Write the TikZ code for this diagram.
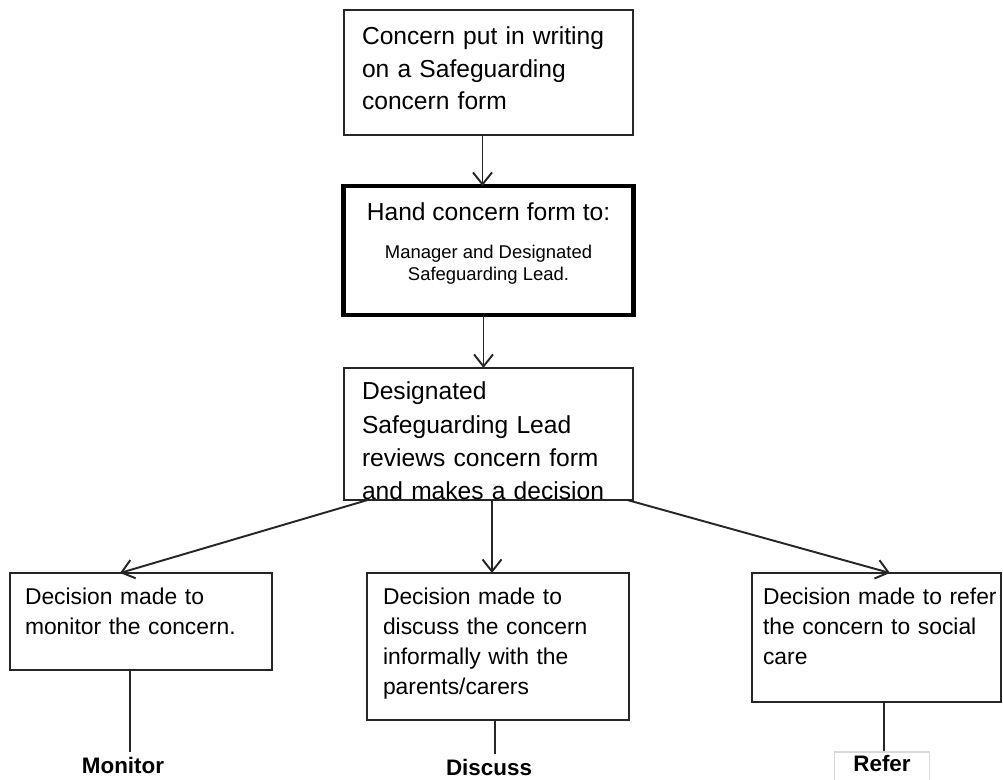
\documentclass[tikz,border=0pt]{standalone}
\usepackage{fontspec}
\setmainfont{Liberation Sans}
\usetikzlibrary{positioning, calc}
\usetikzlibrary{arrows.meta}

\begin{document}
\begin{tikzpicture} [x=0.02cm, y=0.02cm, font=\fontsize{14pt}{18.5pt}\selectfont,
	box/.style={draw=black!85, line width=1pt, inner sep=0pt, outer sep=0pt},
	txt/.style={inner sep=0pt, outer sep=0pt, align=left},
	lowtxt/.style={txt, text width=4.7cm, font=\fontsize{13pt}{17pt}\selectfont},
	outcome/.style={anchor=base, font=\fontsize{12.75pt}{15pt}\selectfont\bfseries},
	link/.style={draw=black!85, line width=1.1pt},
	arr/.style={link, -{Straight Barb[length=2.4mm, width=3.8mm]}}]
	\useasboundingbox (0,0) rectangle (1003,780);
	\node [box, minimum width=5.78cm, minimum height=2.5cm] (form) at (488.5,707.5) {};
	\node [box, draw=black, line width=2.6pt, minimum width=5.8cm, minimum height=2.58cm, below=1.02cm of form] (hand) {};
	\node [box, minimum width=5.78cm, minimum height=2.64cm, below=1.06cm of hand] (review) {};
	\node [box, anchor=north, minimum width=5.24cm, minimum height=1.94cm] (monitor) at (141,207) {};
	\node [box, anchor=north, minimum width=5.24cm, minimum height=2.94cm] (discuss) at (498,207) {};
	\node [box, anchor=north, minimum width=4.98cm, minimum height=2.58cm] (refer) at (876.5,207) {};
	\node [txt, text width=5.3cm, below right=0.34cm and 0.36cm of form.north west] (formtxt) {Concern put in writing\\on a Safeguarding\\concern form};
	\node [txt, below=0.34cm of hand.north] (handto) {Hand concern form to:};
	\node [txt, align=center, font=\fontsize{10.5pt}{12.5pt}\selectfont, below=1.18cm of hand.north] (handwho) {Manager and Designated\\Safeguarding Lead.};
	\node [txt, text width=5.3cm, font=\fontsize{14pt}{19pt}\selectfont, below right=0.28cm and 0.36cm of review.north west] (reviewtxt) {Designated\\Safeguarding Lead\\reviews concern form\\and makes a decision};
	\node [lowtxt, below right=0.3cm and 0.3cm of monitor.north west] (monitortxt) {Decision made to\\monitor the concern.};
	\node [lowtxt, below right=0.3cm and 0.32cm of discuss.north west] (discusstxt) {Decision made to\\discuss the concern\\informally with the\\parents/carers};
	\node [lowtxt, below right=0.3cm and 0.22cm of refer.north west] (refertxt) {Decision made to refer\\the concern to social\\care};
	\node [outcome] (mon) at (123,6) {Monitor};
	\node [outcome] (disc) at (489,4) {Discuss};
	\node [outcome, draw=black!15, line width=0.6pt, inner xsep=0.38cm, inner ysep=0.08cm, text height=0.3cm, text depth=1cm] (ref) at (882,9) {Refer};
	\draw [arr] ([xshift=-0.12cm]form.south) -- ([xshift=-0.12cm]hand.north);
	\draw [arr] ([xshift=-0.1cm]hand.south) -- ([xshift=-0.1cm]review.north);
	\draw [arr] ([xshift=0.48cm]review.south west) -- ([xshift=-0.42cm]monitor.north);
	\draw [arr] ([xshift=0.07cm]review.south) -- ([xshift=-0.12cm]discuss.north);
	\draw [arr] ([xshift=-0.12cm]review.south east) -- ([xshift=0.27cm]refer.north);
	\draw [link] ([xshift=-0.22cm]monitor.south) -- ([xshift=-0.22cm]monitor.south |- mon.north);
	\draw [link] ([xshift=-0.06cm]discuss.south) -- ([xshift=-0.06cm]discuss.south |- disc.north);
	\draw [link] ([xshift=0.15cm]refer.south) -- ([xshift=0.15cm]refer.south |- ref.north);
\end{tikzpicture}
\end{document}
